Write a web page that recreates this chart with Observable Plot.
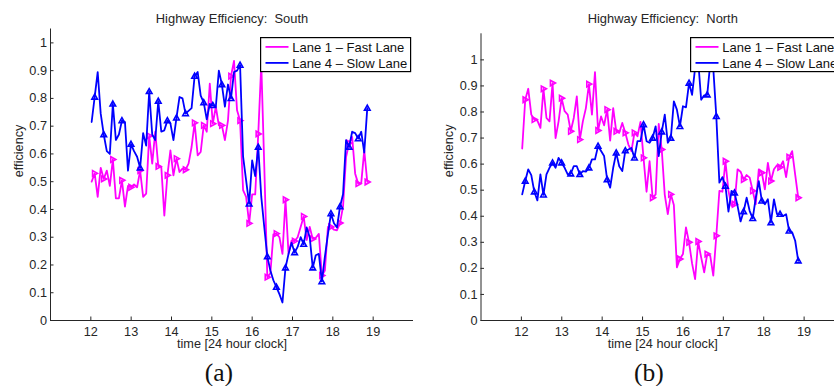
<!DOCTYPE html>
<html><head><meta charset="utf-8">
<script src="https://cdn.jsdelivr.net/npm/d3@7"></script>
<script src="https://cdn.jsdelivr.net/npm/@observablehq/plot@0.6"></script>
<style>
html,body{margin:0;padding:0;background:#fff;overflow:hidden;width:834px;height:386px}
#wrap{position:relative;width:834px;height:386px;overflow:hidden;background:#fff}
#wrap svg.panel{position:absolute;top:0}
svg text{white-space:pre}
</style></head><body><div id="wrap"></div>
<script>
// Sample times (hours, 24h clock)
const times = [12.020,12.095,12.170,12.245,12.320,12.396,12.471,12.546,12.621,12.696,12.771,12.846,12.921,12.996,13.071,13.147,13.222,13.297,13.372,13.447,13.522,13.597,13.672,13.747,13.822,13.898,13.973,14.048,14.123,14.198,14.273,14.348,14.423,14.498,14.573,14.649,14.724,14.799,14.874,14.949,15.024,15.099,15.174,15.249,15.324,15.400,15.475,15.550,15.625,15.700,15.775,15.850,15.925,16.000,16.075,16.151,16.226,16.301,16.376,16.451,16.526,16.601,16.676,16.751,16.826,16.902,16.977,17.052,17.127,17.202,17.277,17.352,17.427,17.502,17.577,17.653,17.728,17.803,17.878,17.953,18.028,18.103,18.178,18.253,18.328,18.404,18.479,18.554,18.629,18.704,18.779,18.854];

// South: Lane 1 (fast) and Lane 4 (slow)
const southFast = [0.50,0.53,0.445,0.55,0.51,0.54,0.485,0.58,0.44,0.44,0.505,0.41,0.485,0.48,0.49,0.48,0.54,0.445,0.457,0.665,0.565,0.68,0.555,0.553,0.378,0.523,0.613,0.523,0.583,0.535,0.547,0.543,0.565,0.625,0.712,0.595,0.607,0.703,0.68,0.853,0.709,0.77,0.703,0.703,0.65,0.72,0.88,0.935,0.757,0.72,0.47,0.445,0.35,0.454,0.454,0.672,0.925,0.553,0.156,0.17,0.31,0.313,0.30,0.24,0.435,0.24,0.288,0.286,0.30,0.337,0.375,0.29,0.337,0.294,0.298,0.312,0.162,0.18,0.337,0.337,0.327,0.325,0.351,0.41,0.589,0.639,0.661,0.529,0.493,0.495,0.613,0.499];
const southSlow = [0.715,0.805,0.895,0.745,0.67,0.61,0.60,0.78,0.65,0.67,0.72,0.715,0.54,0.635,0.61,0.59,0.55,0.675,0.63,0.825,0.67,0.65,0.79,0.68,0.685,0.72,0.71,0.65,0.73,0.805,0.80,0.745,0.755,0.765,0.88,0.895,0.81,0.785,0.725,0.78,0.775,0.77,0.90,0.85,0.77,0.85,0.80,0.895,0.90,0.92,0.59,0.505,0.42,0.577,0.52,0.625,0.445,0.335,0.23,0.18,0.145,0.12,0.095,0.065,0.19,0.24,0.28,0.245,0.265,0.30,0.275,0.335,0.30,0.19,0.235,0.24,0.14,0.23,0.31,0.385,0.35,0.335,0.41,0.455,0.65,0.625,0.68,0.675,0.655,0.68,0.605,0.765];

// North: Lane 1 (fast) and Lane 4 (slow)
const northFast = [0.66,0.847,0.889,0.79,0.771,0.767,0.739,0.889,0.777,0.764,0.911,0.70,0.764,0.853,0.803,0.79,0.726,0.777,0.86,0.694,0.764,0.815,0.907,0.79,0.953,0.729,0.783,0.749,0.809,0.69,0.815,0.726,0.72,0.758,0.72,0.675,0.65,0.72,0.707,0.762,0.624,0.494,0.611,0.471,0.484,0.754,0.656,0.482,0.408,0.484,0.443,0.204,0.236,0.255,0.357,0.30,0.219,0.159,0.303,0.242,0.185,0.255,0.248,0.172,0.325,0.497,0.494,0.611,0.497,0.44,0.446,0.58,0.571,0.541,0.558,0.548,0.497,0.446,0.58,0.567,0.503,0.605,0.535,0.58,0.596,0.588,0.611,0.55,0.627,0.65,0.56,0.471];
const northSlow = [0.484,0.535,0.58,0.558,0.494,0.461,0.561,0.482,0.561,0.586,0.605,0.586,0.624,0.605,0.586,0.561,0.563,0.592,0.592,0.561,0.573,0.571,0.586,0.618,0.618,0.669,0.65,0.631,0.541,0.51,0.586,0.643,0.592,0.573,0.652,0.656,0.662,0.624,0.688,0.688,0.752,0.688,0.682,0.70,0.745,0.631,0.724,0.79,0.682,0.70,0.841,0.809,0.745,0.822,0.818,0.911,0.866,0.968,1.0,0.847,0.864,0.866,0.987,0.968,0.783,0.529,0.55,0.516,0.418,0.497,0.49,0.44,0.38,0.418,0.471,0.42,0.392,0.471,0.535,0.459,0.446,0.465,0.376,0.465,0.408,0.408,0.401,0.408,0.344,0.338,0.306,0.229];

const xTicks = [12,13,14,15,16,17,18,19];
const yTicks = [0,0.1,0.2,0.3,0.4,0.5,0.6,0.7,0.8,0.9,1];
const seriesNames = ["Lane 1 \u2013 Fast Lane","Lane 4 \u2013 Slow Lane"];
const seriesColors = ["#ff00ff","#0000ff"];
const panelTitles = ["Highway Efficiency:  South","Highway Efficiency:  North"];
const panelTags = ["(a)","(b)"];
const xLabel = "time [24 hour clock]";
const yLabel = "efficiency";

const FONT = "'Liberation Sans', Arial, Helvetica, sans-serif";
const AX = "#262626";

// custom MATLAB-like marker symbols
const triUp = {draw(ctx, size){const r=Math.sqrt(size/Math.PI);ctx.moveTo(0,-r*1.05);ctx.lineTo(r*1.0,r*0.75);ctx.lineTo(-r*1.0,r*0.75);ctx.closePath();}};
const triRight = {draw(ctx, size){const r=Math.sqrt(size/Math.PI);ctx.moveTo(r*1.05,0);ctx.lineTo(-r*0.75,-r*1.0);ctx.lineTo(-r*0.75,r*1.0);ctx.closePath();}};

function makePanel(o){
  const height = 386, marginBottom = 66, marginRight = 7;
  const innerW = o.width - o.marginLeft - marginRight;
  const innerH = height - o.marginTop - marginBottom;
  const fast = times.map((t,i)=>({t, v:o.fast[i], i}));
  const slow = times.map((t,i)=>({t, v:o.slow[i], i}));
  const mk = d => d.i % 3 === 1;
  const chart = Plot.plot({
    width:o.width, height, marginLeft:o.marginLeft, marginRight, marginTop:o.marginTop, marginBottom,
    x:{domain:[11,20]},
    y:{domain:[0,o.yMax]},
    style:{fontFamily:FONT, fontSize:"12.7px", color:AX, background:"transparent", overflow:"visible"},
    marks:[
      Plot.axisX({ticks:xTicks, tickSize:0, tickPadding:6, label:null, tickFormat:d=>String(d)}),
      Plot.axisY({ticks:yTicks, tickSize:0, tickPadding:3.5, label:null, tickFormat:d=>String(+d.toFixed(1))}),
      Plot.tickX(xTicks, {x:d=>d, insetTop:innerH-3.5, stroke:AX}),
      Plot.tickY(yTicks, {y:d=>d, insetRight:innerW-3.5, stroke:AX}),
      Plot.ruleX([11], {stroke:AX}),
      Plot.ruleY([0], {stroke:AX}),
      Plot.line(fast, {x:"t", y:"v", stroke:seriesColors[0], strokeWidth:1.8}),
      Plot.dot(fast.filter(mk), {x:"t", y:"v", symbol:triRight, r:2.8, stroke:seriesColors[0], strokeWidth:1.6, fill:"none"}),
      Plot.line(slow, {x:"t", y:"v", stroke:seriesColors[1], strokeWidth:1.8}),
      Plot.dot(slow.filter(mk), {x:"t", y:"v", symbol:triUp, r:2.8, stroke:seriesColors[1], strokeWidth:1.6, fill:"none"}),
      Plot.text([o.title], {text:d=>d, frameAnchor:"top", dy:o.titleDy, lineAnchor:"bottom", fill:AX, fontSize:12.9}),
      Plot.text([xLabel], {text:d=>d, frameAnchor:"bottom", dy:27.2, lineAnchor:"bottom", fill:AX, fontSize:12.7}),
      Plot.text([yLabel], {text:d=>d, frameAnchor:"left", rotate:-90, dx:o.yLabDx, dy:o.yLabDy, lineAnchor:"bottom", fill:AX, fontSize:12.7}),
      Plot.text([o.tag], {text:d=>d, frameAnchor:"bottom", dx:o.tagDx, dy:60.4, lineAnchor:"bottom", fill:"#111", fontSize:25.5, fontFamily:"'Liberation Serif', 'Times New Roman', serif"})
    ]
  });
  chart.classList.add("panel");
  chart.style.left = o.left + "px";
  document.getElementById("wrap").appendChild(chart);
}

function addLegend(left, top){
  const svg = d3.select("#wrap").append("svg")
    .style("position","absolute").style("left",left+"px").style("top",top+"px")
    .attr("width",152).attr("height",36);
  svg.append("rect").attr("x",0.6).attr("y",0.6).attr("width",150).attr("height",34)
    .attr("fill","#fff").attr("stroke","#000").attr("stroke-width",1.2);
  seriesNames.forEach((name,k)=>{
    const cy = 9.9 + k*16;
    svg.append("line").attr("x1",5.5).attr("x2",28.5).attr("y1",cy).attr("y2",cy)
      .attr("stroke",seriesColors[k]).attr("stroke-width",1.8);
    svg.append("text").attr("x",32.3).attr("y",cy).attr("dy","0.36em")
      .attr("font-family",FONT).attr("font-size",13).attr("fill","#111").text(name);
  });
}

makePanel({left:0, width:420, marginLeft:50, marginTop:28.5, yMax:1.05, fast:southFast, slow:southSlow,
  title:panelTitles[0], titleDy:-6.2, yLabDx:-27.5, yLabDy:2.5, tag:panelTags[0], tagDx:-13.2});
makePanel({left:414, width:437, marginLeft:66.5, marginTop:33.3, yMax:1.1, fast:northFast, slow:northSlow,
  title:panelTitles[1], titleDy:-11, yLabDx:-28.5, yLabDy:0, tag:panelTags[1], tagDx:-14});
addLegend(260, 37);
addLegend(690, 37);
</script></body></html>
